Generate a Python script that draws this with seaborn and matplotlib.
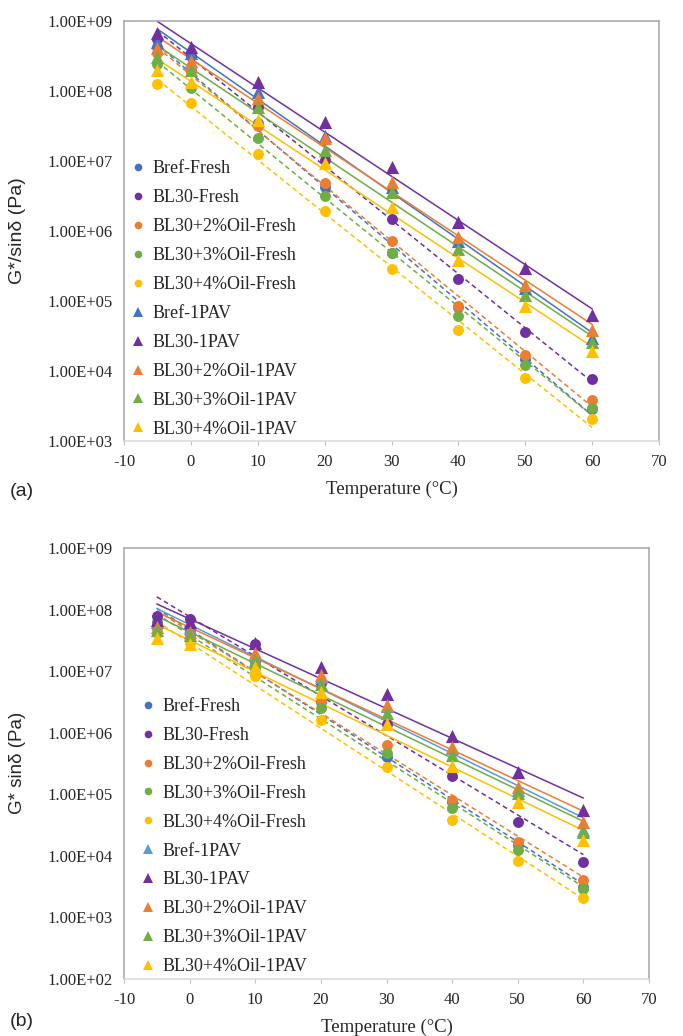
import numpy as np
import pandas as pd
import matplotlib
matplotlib.use("Agg")
import matplotlib.pyplot as plt
import seaborn as sns
from matplotlib.lines import Line2D
from matplotlib.ticker import FuncFormatter, FixedLocator, NullLocator

# Test temperatures (°C)
temperature = [-5, 0, 10, 20, 30, 40, 50, 60]

fresh_names = ["Bref-Fresh", "BL30-Fresh", "BL30+2%Oil-Fresh",
               "BL30+3%Oil-Fresh", "BL30+4%Oil-Fresh"]
aged_names = ["Bref-1PAV", "BL30-1PAV", "BL30+2%Oil-1PAV",
              "BL30+3%Oil-1PAV", "BL30+4%Oil-1PAV"]

# (a) G*/sin(delta), Pa
a_bref_fresh = [4.2e8, 2.0e8, 3.5e7, 4.2e6, 4.9e5, 8.3e4, 1.5e4, 2.9e3]
a_bl30_fresh = [5.6e8, 3.2e8, 6.0e7, 1.02e7, 1.5e6, 2.05e5, 3.55e4, 7.8e3]
a_oil2_fresh = [3.5e8, 1.9e8, 3.2e7, 4.9e6, 7.2e5, 8.5e4, 1.7e4, 3.9e3]
a_oil3_fresh = [2.4e8, 1.1e8, 2.1e7, 3.2e6, 4.9e5, 6.2e4, 1.23e4, 2.95e3]
a_oil4_fresh = [1.25e8, 6.8e7, 1.25e7, 1.9e6, 2.9e5, 3.9e4, 8.0e3, 2.05e3]
a_bref_pav = [5.0e8, 3.5e8, 9.8e7, 2.3e7, 4.2e6, 7.1e5, 1.55e5, 2.95e4]
a_bl30_pav = [6.8e8, 4.3e8, 1.35e8, 3.6e7, 8.3e6, 1.35e6, 2.95e5, 6.3e4]
a_oil2_pav = [4.1e8, 2.7e8, 7.9e7, 2.1e7, 5.0e6, 8.3e5, 1.7e5, 3.9e4]
a_oil3_pav = [3.1e8, 2.0e8, 5.9e7, 1.45e7, 3.6e6, 5.6e5, 1.23e5, 2.6e4]
a_oil4_pav = [2.0e8, 1.35e8, 3.9e7, 9.5e6, 2.2e6, 3.9e5, 8.5e4, 1.95e4]

# (b) G*·sin(delta), Pa
b_bref_fresh = [6.3e7, 4.6e7, 1.4e7, 3.2e6, 4.1e5, 7.6e4, 1.48e4, 3.1e3]
b_bl30_fresh = [7.8e7, 7.0e7, 2.8e7, 6.3e6, 1.4e6, 1.95e5, 3.6e4, 7.9e3]
b_oil2_fresh = [5.6e7, 4.2e7, 1.3e7, 3.3e6, 6.4e5, 8.1e4, 1.66e4, 4.0e3]
b_oil3_fresh = [5.0e7, 3.8e7, 1.12e7, 2.5e6, 4.6e5, 6.0e4, 1.23e4, 2.9e3]
b_oil4_fresh = [4.2e7, 2.9e7, 8.3e6, 1.6e6, 2.8e5, 3.8e4, 8.1e3, 2.1e3]
b_bref_pav = [6.3e7, 5.0e7, 1.85e7, 7.9e6, 2.7e6, 5.6e5, 1.17e5, 2.6e4]
b_bl30_pav = [6.8e7, 6.3e7, 2.9e7, 1.18e7, 4.2e6, 8.8e5, 2.3e5, 5.6e4]
b_oil2_pav = [5.3e7, 4.4e7, 1.95e7, 8.7e6, 2.8e6, 5.9e5, 1.32e5, 3.6e4]
b_oil3_pav = [4.7e7, 3.9e7, 1.5e7, 6.2e6, 2.1e6, 4.3e5, 1.03e5, 2.4e4]
b_oil4_pav = [3.5e7, 2.8e7, 1.18e7, 4.6e6, 1.4e6, 2.9e5, 7.5e4, 1.8e4]

x_ticks = [-10, 0, 10, 20, 30, 40, 50, 60, 70]

BLUE, PURPLE, ORANGE, GREEN, YELLOW = "#4472C4", "#7030A0", "#ED7D31", "#70AD47", "#FFC000"
LIGHT_BLUE = "#5B9BD5"

sns.set_style("white")
plt.rcParams["font.family"] = ["Liberation Serif", "DejaVu Serif"]
plt.rcParams["axes.unicode_minus"] = False

fig = plt.figure(figsize=(6.83, 10.36), dpi=100)
W, H = 683, 1036


def px_axes(left, top, right, bottom):
    return fig.add_axes([left / W, 1 - bottom / H, (right - left) / W, (bottom - top) / H])


def exp_fit_line(ax, xs, ys, color, dashed):
    coef = np.polyfit(xs, np.log10(ys), 1)
    tt = np.array([min(xs), max(xs)], dtype=float)
    ls = (0, (3.2, 2.2)) if dashed else "-"
    sns.lineplot(x=tt, y=10 ** np.polyval(coef, tt), ax=ax, color=color,
                 lw=1.1, linestyle=ls, zorder=2, legend=False)


def draw_panel(ax, fresh, aged, fresh_colors, aged_colors, ymin):
    ax.set_yscale("log")
    for vals, color in zip(fresh, fresh_colors):
        exp_fit_line(ax, temperature, vals, color, dashed=True)
    for vals, color in zip(aged, aged_colors):
        exp_fit_line(ax, temperature, vals, color, dashed=False)
    for vals, color in zip(fresh, fresh_colors):
        sns.scatterplot(x=temperature, y=vals, ax=ax, color=color, marker="o",
                        s=62, linewidth=0, zorder=3, legend=False)
    for vals, color in zip(aged, aged_colors):
        sns.scatterplot(x=temperature, y=vals, ax=ax, color=color, marker="^",
                        s=90, linewidth=0, zorder=4, legend=False)

    ax.set_xlim(-10, 70)
    ax.set_ylim(ymin, 1e9)
    ax.xaxis.set_major_locator(FixedLocator(x_ticks))
    decades = [10.0 ** k for k in range(int(round(np.log10(ymin))), 10)]
    ax.yaxis.set_major_locator(FixedLocator(decades))
    ax.yaxis.set_minor_locator(NullLocator())
    ax.yaxis.set_major_formatter(FuncFormatter(lambda v, p: f"{v:.2E}"))
    ax.tick_params(axis="x", length=3, width=0.8, color="#BFBFBF", pad=6,
                   labelsize=12, direction="out", bottom=True)
    ax.tick_params(axis="y", length=0, pad=8, labelsize=12, left=True)
    for side in ("left", "top", "right"):
        ax.spines[side].set_color("#A6A6A6")
        ax.spines[side].set_linewidth(1.1)
    ax.spines["bottom"].set_color("#D9D9D9")
    ax.spines["bottom"].set_linewidth(1.1)
    ax.grid(False)
    ax.set_xlabel("Temperature (°C)", fontsize=13.5, labelpad=8)
    ax.set_ylabel("")

    handles = [Line2D([], [], ls="", marker="o", markersize=5.5, color=c,
                      markeredgewidth=0) for c in fresh_colors]
    handles += [Line2D([], [], ls="", marker="^", markersize=6.5, color=c,
                       markeredgewidth=0) for c in aged_colors]
    return handles


legend_kw = dict(loc="upper left", frameon=False, fontsize=13,
                 handlelength=1.0, handletextpad=0.35, labelspacing=0.66,
                 borderpad=0, borderaxespad=0)

# Panel (a)
ax_a = px_axes(124, 21, 659, 441)
h_a = draw_panel(ax_a,
                 [a_bref_fresh, a_bl30_fresh, a_oil2_fresh, a_oil3_fresh, a_oil4_fresh],
                 [a_bref_pav, a_bl30_pav, a_oil2_pav, a_oil3_pav, a_oil4_pav],
                 [BLUE, PURPLE, ORANGE, GREEN, YELLOW],
                 [BLUE, PURPLE, ORANGE, GREEN, YELLOW],
                 1e3)
ax_a.legend(h_a, fresh_names + aged_names, bbox_to_anchor=(0.0084, 0.668), **legend_kw)

# Panel (b)
ax_b = px_axes(124, 548, 649, 979)
h_b = draw_panel(ax_b,
                 [b_bref_fresh, b_bl30_fresh, b_oil2_fresh, b_oil3_fresh, b_oil4_fresh],
                 [b_bref_pav, b_bl30_pav, b_oil2_pav, b_oil3_pav, b_oil4_pav],
                 [BLUE, PURPLE, ORANGE, GREEN, YELLOW],
                 [LIGHT_BLUE, PURPLE, ORANGE, GREEN, YELLOW],
                 1e2)
ax_b.legend(h_b, fresh_names + aged_names, bbox_to_anchor=(0.0276, 0.652), **legend_kw)

sans = ["Liberation Sans", "DejaVu Sans"]
fig.text(18 / W, 1 - 231 / H, "G*/sinδ (Pa)", rotation=90, ha="center",
         va="center", fontsize=14, family=sans)
fig.text(18 / W, 1 - 763 / H, "G* sinδ (Pa)", rotation=90, ha="center",
         va="center", fontsize=13.5, family=sans)
fig.text(10 / W, 1 - 492 / H, "(a)", ha="left", va="center", fontsize=14, family=sans)
fig.text(10 / W, 1 - 1022 / H, "(b)", ha="left", va="center", fontsize=14, family=sans)

fig.savefig("out.png", dpi=100)
